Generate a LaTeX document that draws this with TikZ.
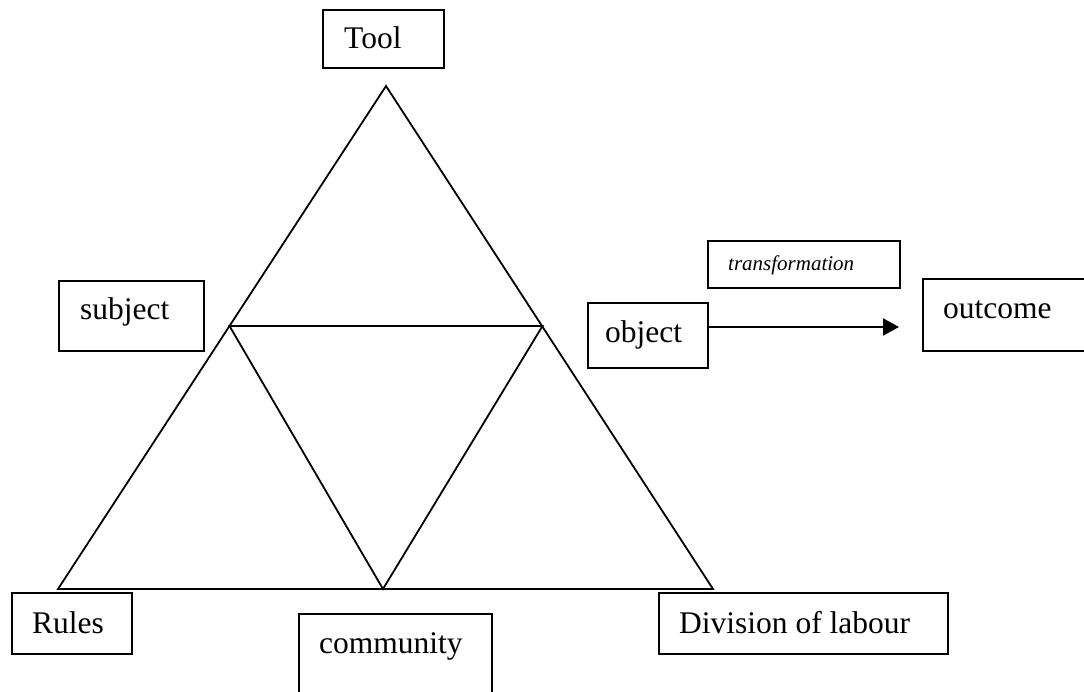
\documentclass[tikz,border=0pt]{standalone}
\usepackage{fontspec}
\setmainfont{Liberation Serif}
\usetikzlibrary{arrows.meta}
\begin{document}
\begin{tikzpicture}[x=1pt,y=-1pt,
  box/.style={draw=black,line width=1.8pt,rectangle,inner sep=0pt,anchor=north west},
  lbl/.style={anchor=base west,inner sep=0pt,font=\fontsize{31.5}{36}\selectfont},
  smalllbl/.style={anchor=base west,inner sep=0pt,font=\fontsize{21}{24}\selectfont\itshape},
  edge/.style={line width=1.8pt,line join=miter},
  arrowline/.style={line width=2.2pt,-{Triangle[length=16pt,width=17pt]}}]
\useasboundingbox (0,0) rectangle (1084,692);
\clip (0,0) rectangle (1084,692);
% triangle vertices
\coordinate (apex) at (386,86);
\coordinate (bl) at (58,589);
\coordinate (br) at (713,589);
\coordinate (il) at (229.5,326);
\coordinate (ir) at (542.5,326);
\coordinate (bm) at (383,589);
\draw[edge] (bl) -- (apex) -- (br) -- cycle;
\draw[edge] (il) -- (ir) -- (bm) -- cycle;
% boxes
\node[box,minimum width=121pt,minimum height=58pt] (toolbox) at (322,9) {};
\node[lbl] (tool) at (344,49) {Tool};
\node[box,minimum width=145pt,minimum height=70pt] (subjbox) at (58,280) {};
\node[lbl] (subject) at (80,320) {subject};
\node[box,minimum width=120pt,minimum height=65pt] (objbox) at (587,302) {};
\node[lbl] (object) at (605,343) {object};
\node[box,minimum width=192pt,minimum height=47pt] (transbox) at (707,240) {};
\node[smalllbl] (transformation) at (728,271) {transformation};
\node[box,minimum width=180pt,minimum height=72pt] (outbox) at (922,278) {};
\node[lbl] (outcome) at (943,319) {outcome};
\node[box,minimum width=120pt,minimum height=61pt] (rulesbox) at (11,592) {};
\node[lbl] (rules) at (32,633) {Rules};
\node[box,minimum width=193pt,minimum height=100pt] (commbox) at (298,613) {};
\node[lbl] (community) at (319,653) {community};
\node[box,minimum width=289pt,minimum height=61pt] (divbox) at (658,592) {};
\node[lbl] (division) at (679,633) {Division of labour};
% arrow
\coordinate (arrowstart) at (objbox.east |- 0,327);
\coordinate (arrowend) at (899,327);
\draw[arrowline] (arrowstart) -- (arrowend);
\end{tikzpicture}
\end{document}
